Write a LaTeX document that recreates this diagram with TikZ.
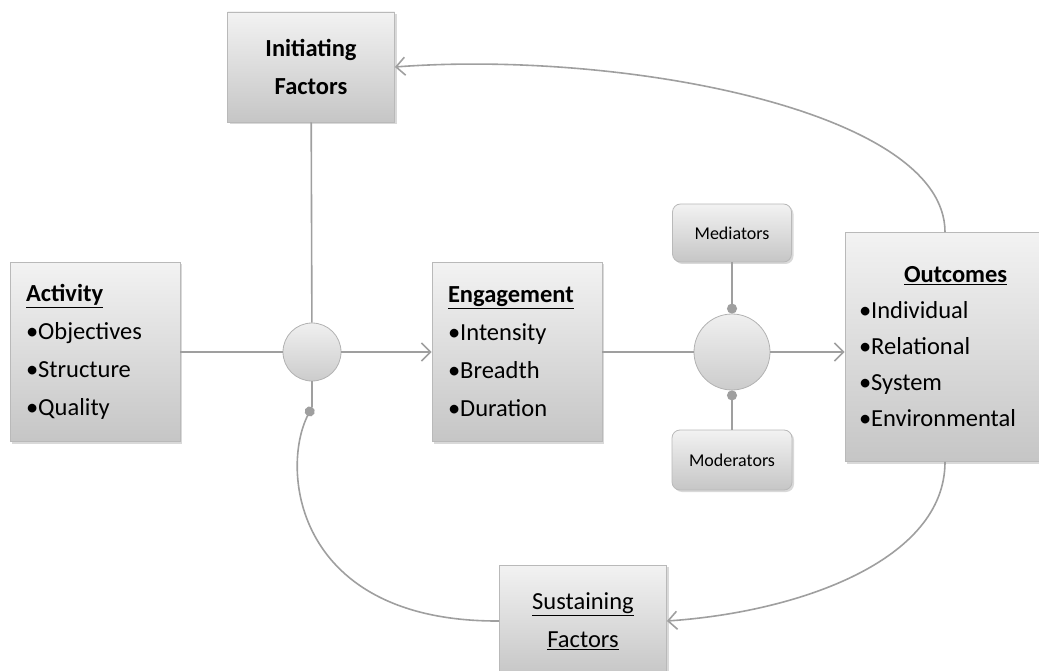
\documentclass[tikz,border=0pt]{standalone}
\usepackage{fontspec}
\setmainfont{Carlito}
\usetikzlibrary{arrows.meta,shadows}

\tikzset{
  box/.style={draw=gray!55,line width=0.8pt,top color=gray!10,bottom color=gray!45,
    drop shadow={shadow xshift=2pt,shadow yshift=-2pt,opacity=.3,fill=gray},
    font=\fontsize{24.5}{38}\selectfont,inner sep=0pt},
  smallbox/.style={box,rounded corners=8pt,font=\fontsize{18}{22}\selectfont},
  hub/.style={circle,draw=gray!60,line width=0.8pt,top color=gray!12,bottom color=gray!40,inner sep=0pt},
  link/.style={draw=gray!75,line width=1.6pt},
  flow/.style={link,-{Straight Barb[length=9pt,width=18pt]}},
  knob/.style={link,-{Circle[length=10pt]}}
}

\begin{document}
\begin{tikzpicture}[x=1pt,y=-1pt]
\useasboundingbox (0,0) rectangle (1039,671);
% boxes
\node[box,minimum width=167pt,minimum height=110pt,align=center] (init) at (311,67) {\textbf{Initiating}\\\textbf{Factors}};
\node[box,minimum width=170pt,minimum height=179pt,text width=138pt,align=left] (act) at (95,352)
  {\underline{\textbf{Activity}}\\\textbullet Objectives\\\textbullet Structure\\\textbullet Quality};
\node[box,minimum width=170pt,minimum height=179pt,text width=138pt,align=left] (eng) at (517,352)
  {\underline{\textbf{Engagement}}\\\textbullet Intensity\\\textbullet Breadth\\\textbullet Duration};
\node[box,minimum width=206pt,minimum height=229pt,text width=178pt,align=left,
  font=\fontsize{24.5}{36}\selectfont] (outc) at (948,347)
  {\hspace*{45pt}\underline{\textbf{Outcomes}}\\\textbullet Individual\\\textbullet Relational\\\textbullet System\\\textbullet Environmental};
\node[box,minimum width=167pt,minimum height=112pt,align=center] (sus) at (583,621)
  {\underline{Sustaining}\\\underline{Factors}};
\node[smallbox,minimum width=119pt,minimum height=58pt] (med) at (732,233) {Mediators};
\node[smallbox,minimum width=120pt,minimum height=60pt] (mod) at (732,460) {Moderators};
% hubs
\node[hub,minimum size=58pt] (hubA) at (312,352) {};
\node[hub,minimum size=76pt] (hubB) at (732,352) {};
\coordinate (susEnd) at (312,407);
% connectors
\draw[link] (act) -- (hubA);
\draw[link] (init) -- (hubA);
\draw[flow] (hubA) -- (eng);
\draw[link] (eng) -- (hubB);
\draw[flow] (hubB) -- (hubB -| outc.west);
\draw[knob] (med) -- (hubB.north);
\draw[knob] (mod) -- (hubB.south);
\draw[link] (hubA) -- (susEnd);
% feedback loops
\draw[flow] ([xshift=-3pt]outc.north) .. controls (945,110) and (620,50) .. (init.east);
\draw[flow] ([xshift=-3pt]outc.south) .. controls (945,560) and (800,612) .. (sus.east);
\draw[knob] (sus.west) .. controls (295,622) and (280,470) .. (susEnd);
\end{tikzpicture}
\end{document}
